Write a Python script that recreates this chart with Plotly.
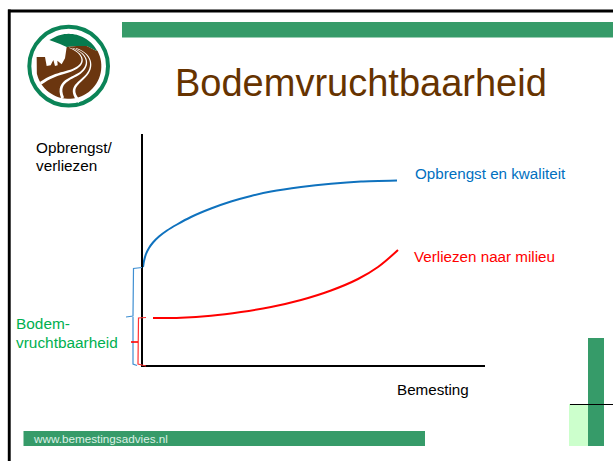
import numpy as np
import plotly.graph_objects as go

W, H = 613, 461

# Chart data (x: fertilisation, y: yield / losses, in arbitrary drawn units)
yield_x = [0, 1, 3, 6, 10, 16, 24, 34, 48, 68, 88, 108, 128, 158, 188, 218, 254]
yield_y = [99, 105, 112, 118, 123.5, 129.5, 135.5, 141.5, 149, 157.5, 164.5, 170, 174.5, 179, 182.3, 184.5, 185.5]
loss_x = [10, 38, 68, 98, 128, 158, 188, 215, 235, 255]
loss_y = [48, 48.3, 50.3, 54, 59, 66, 75.5, 87, 99, 116]

title = "Bodemvruchtbaarheid"
y_label = ["Opbrengst/", "verliezen"]
x_label = "Bemesting"
yield_label = "Opbrengst en kwaliteit"
loss_label = "Verliezen naar milieu"
fertility_label = ["Bodem-", "vruchtbaarheid"]
footer = "www.bemestingsadvies.nl"

GREEN = "#369B69"
BROWN = "#6B360F"
FONT = "Liberation Sans"

fig = go.Figure()
fig.add_trace(go.Scatter(x=yield_x, y=yield_y, mode="lines", hoverinfo="skip",
                         line=dict(color="#0F72BE", width=2, shape="spline", smoothing=0.6)))
fig.add_trace(go.Scatter(x=loss_x, y=loss_y, mode="lines", hoverinfo="skip",
                         line=dict(color="#FF0000", width=2, shape="spline", smoothing=1)))

shapes = []


def rect(x0, y0, x1, y1, color):
    shapes.append(dict(type="rect", xref="x2", yref="y2", x0=x0, y0=y0, x1=x1, y1=y1,
                       fillcolor=color, line_width=0, layer="below"))


def path(d, color=None, fill=None, width=1):
    shapes.append(dict(type="path", xref="x2", yref="y2", path=d, fillcolor=fill,
                       line=dict(color=color or "rgba(0,0,0,0)", width=width if color else 0),
                       layer="below"))


def line(x0, y0, x1, y1, color, width):
    shapes.append(dict(type="line", xref="x2", yref="y2", x0=x0, y0=y0, x1=x1, y1=y1,
                       line=dict(color=color, width=width), layer="below"))


# Slide frame and decorative bars
rect(8, 9.6, W, 12.6, "#000000")
rect(7.8, 9.6, 10.7, H, "#000000")
rect(122, 22, W, 37.5, GREEN)
rect(23.5, 431, 425, 446, GREEN)
rect(569, 404, 588, 446, "#CCFFCC")
rect(588, 338, 604, 446, GREEN)
line(570, 404.5, 613, 404.5, "#000000", 1)

# Braces
path("M142,267.5 L133.5,268.5 L133,316 L126,317 M133,317 L133,364 L137,365.5", color="#3F8FD2", width=1.2)
path("M146,317.5 L138.5,318 L138,364 L146,366", color="#FF3030", width=1.2)
line(131, 342, 138, 342, "#FF0000", 1.6)


# Logo, outlined in 3x crop coordinates
def lx(v):
    return 20 + v / 3


def ly(v):
    return 20 + v / 3


def poly(points, close=True):
    d = "M" + " L".join(f"{lx(a):.2f},{ly(b):.2f}" for a, b in points)
    return d + (" Z" if close else "")


def arc(r, a0, a1, n=40):
    t = np.radians(np.linspace(a0, a1, n))
    return [(146 + r * np.cos(v), 138.5 + r * np.sin(v)) for v in t]


def taper(pts, w0, w1):
    samples = []
    for i in range(0, len(pts) - 1, 3):
        p = np.array(pts[i:i + 4], dtype=float)
        for t in np.linspace(0, 1, 16, endpoint=i + 4 == len(pts)):
            samples.append((1 - t) ** 3 * p[0] + 3 * (1 - t) ** 2 * t * p[1] + 3 * (1 - t) * t ** 2 * p[2] + t ** 3 * p[3])
    c = np.array(samples)
    tang = np.gradient(c, axis=0)
    norm = np.stack([-tang[:, 1], tang[:, 0]], axis=1)
    norm /= np.linalg.norm(norm, axis=1, keepdims=True)
    widths = np.linspace(w0, w1, len(c))[:, None] / 2
    a, b = c + norm * widths, c - norm * widths
    return [tuple(v) for v in a] + [tuple(v) for v in b[::-1]]


shapes.append(dict(type="circle", xref="x2", yref="y2", x0=lx(146 - 118), y0=ly(138.5 - 118),
                   x1=lx(146 + 118), y1=ly(138.5 + 118), fillcolor="#FFFFFF",
                   line=dict(color="#0B8457", width=4), layer="below"))
path(poly([(88, 60), (120, 72), (140, 81), (170, 78), (200, 78), (228, 92)] + arc(97, -28, -112, 24)),
     fill="#067A4E")
path(poly([(140, 81), (170, 78), (200, 78), (228, 92)] + arc(98, -28, 167)
          + [(50, 111), (75, 111), (80, 138), (92, 136), (100, 120), (105, 138), (113, 136), (112, 122), (125, 133), (135, 115)]),
     fill=BROWN)
for pts, w0, w1 in [
    ([(148, 83), (180, 95), (200, 120), (175, 140), (150, 160), (110, 155), (62, 190)], 1.5, 9),
    ([(158, 84), (200, 100), (212, 130), (185, 155), (165, 175), (105, 180), (128, 234)], 1.5, 9),
    ([(168, 85), (215, 100), (225, 140), (195, 170), (170, 195), (145, 205), (178, 246)], 1.5, 9),
]:
    path(poly(taper(pts, w0, w1)), fill="#FFFFFF")

fig.update_layout(shapes=shapes)


def text(x, y, s, size, color, anchor="left"):
    fig.add_annotation(xref="x2", yref="y2", x=x, y=y, text=s, showarrow=False,
                       xanchor=anchor, yanchor="middle", borderpad=0, borderwidth=0,
                       font=dict(family=FONT, size=size, color=color))


text(360.5, 83, title, 38, "#663300", "center")
text(36, 147.5, y_label[0], 15.3, "#000000")
text(36, 165.5, y_label[1], 15.3, "#000000")
text(415, 173, yield_label, 15.2, "#0070C0")
text(414, 256, loss_label, 15.2, "#FF0000")
text(397, 389, x_label, 15.2, "#000000")
text(16, 323, fertility_label[0], 15.4, "#00B050")
text(16, 342, fertility_label[1], 15.4, "#00B050")
text(33, 438.5, footer, 11.7, "#DDF0E6")

fig.update_layout(
    width=W, height=H, margin=dict(l=0, r=0, t=0, b=0),
    paper_bgcolor="#FFFFFF", plot_bgcolor="rgba(0,0,0,0)", showlegend=False,
    xaxis=dict(domain=[143 / W, 485 / W], range=[0, 342], showgrid=False, zeroline=False,
               showticklabels=False, ticks="", showline=True, linecolor="#000000", linewidth=2, fixedrange=True),
    yaxis=dict(domain=[(H - 365) / H, (H - 134) / H], range=[1, 232], showgrid=False, zeroline=False,
               showticklabels=False, ticks="", showline=True, linecolor="#000000", linewidth=2, fixedrange=True),
    xaxis2=dict(domain=[0, 1], range=[0, W], visible=False, anchor="y2", fixedrange=True),
    yaxis2=dict(domain=[0, 1], range=[H, 0], visible=False, anchor="x2", fixedrange=True),
)
fig.add_trace(go.Scatter(x=[], y=[], xaxis="x2", yaxis="y2", hoverinfo="skip"))

fig.write_html("out.html", config=dict(displayModeBar=False),
               post_script="document.body.style.margin='0';")
